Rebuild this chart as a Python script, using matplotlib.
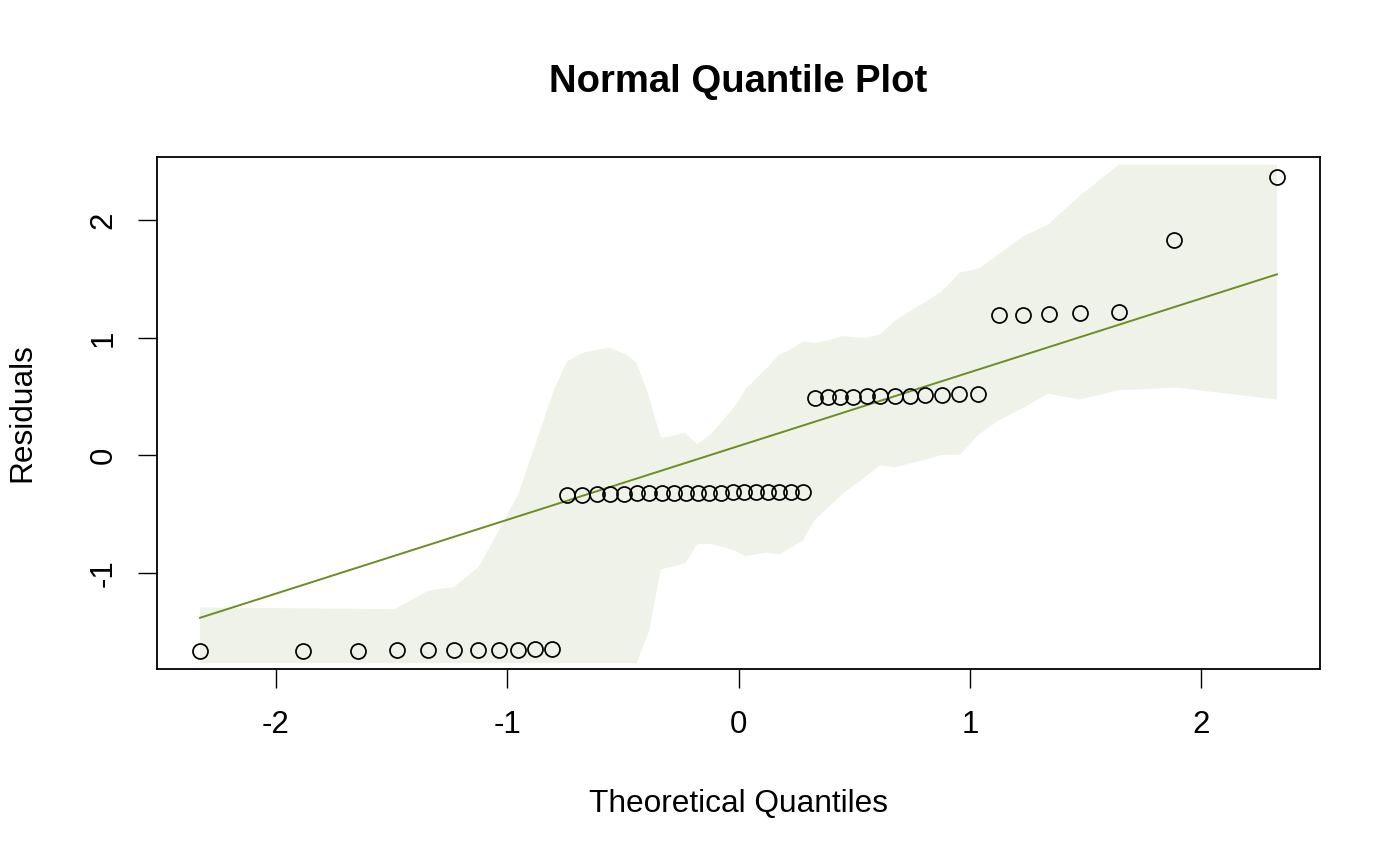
import numpy as np
import matplotlib
matplotlib.use("Agg")
import matplotlib.pyplot as plt

plt.rcParams["font.family"] = ["Liberation Sans", "DejaVu Sans"]

# theoretical normal quantiles (n = 50)
theoretical = [
    -2.326, -1.881, -1.645, -1.476, -1.341, -1.227, -1.126, -1.036, -0.954, -0.878,
    -0.806, -0.739, -0.674, -0.613, -0.553, -0.496, -0.440, -0.385, -0.332, -0.279,
    -0.228, -0.176, -0.126, -0.075, -0.025, 0.025, 0.075, 0.126, 0.176, 0.228,
    0.279, 0.332, 0.385, 0.440, 0.496, 0.553, 0.613, 0.674, 0.739, 0.806,
    0.878, 0.954, 1.036, 1.126, 1.227, 1.341, 1.476, 1.645, 1.881, 2.326,
]

residuals = [
    -1.665, -1.664, -1.663, -1.662, -1.661, -1.660, -1.659, -1.657, -1.655, -1.653,
    -1.650, -0.340, -0.335, -0.330, -0.328, -0.326, -0.325, -0.323, -0.322, -0.321,
    -0.320, -0.319, -0.318, -0.317, -0.316, -0.315, -0.314, -0.313, -0.312, -0.311,
    -0.310, 0.490, 0.494, 0.497, 0.500, 0.502, 0.504, 0.506, 0.508, 0.510,
    0.513, 0.518, 0.525, 1.193, 1.195, 1.207, 1.213, 1.224, 1.835, 2.373,
]

# reference line end points
line_x = [-2.326, 2.326]
line_y = [-1.384, 1.541]

# envelope, upper and lower edges
band_upper_x = [-2.326, -1.486, -1.337, -1.229, -1.122, -1.039, -0.953, -0.882, -0.799, -0.741,
                -0.675, -0.559, -0.484, -0.440, -0.393, -0.336, -0.286, -0.231, -0.178, -0.112,
                -0.013, 0.033, 0.129, 0.175, 0.220, 0.278, 0.336, 0.385, 0.443, 0.551,
                0.612, 0.675, 0.874, 0.956, 1.039, 1.229, 1.337, 1.478, 1.643, 2.326]
band_upper_y = [-1.296, -1.310, -1.151, -1.122, -0.949, -0.656, -0.339, 0.064, 0.548, 0.798,
                0.871, 0.917, 0.856, 0.784, 0.539, 0.150, 0.165, 0.193, 0.093, 0.193,
                0.424, 0.568, 0.755, 0.856, 0.894, 0.969, 0.957, 0.977, 1.014, 1.000,
                1.029, 1.144, 1.389, 1.556, 1.590, 1.864, 1.964, 2.215, 2.475, 2.475]
band_lower_x = [-2.326, -0.440, -0.385, -0.336, -0.231, -0.178, -0.112, -0.013, 0.029, 0.121,
                0.175, 0.278, 0.327, 0.460, 0.551, 0.609, 0.675, 0.807, 0.874, 0.956,
                1.039, 1.122, 1.229, 1.337, 1.473, 1.643, 1.891, 2.326]
band_lower_y = [-1.770, -1.770, -1.491, -0.973, -0.921, -0.756, -0.756, -0.814, -0.858, -0.829,
                -0.843, -0.728, -0.555, -0.310, -0.181, -0.086, -0.101, -0.037, 0.001, 0.006,
                0.179, 0.294, 0.404, 0.525, 0.475, 0.554, 0.577, 0.475]

xticks = [-2, -1, 0, 1, 2]
yticks = [-1, 0, 1, 2]

fig = plt.figure(figsize=(14, 8.66), dpi=100)
ax = fig.add_axes([157 / 1400, 1 - 669 / 866, (1320 - 157) / 1400, (669 - 157) / 866])

# envelope polygon
poly_x = np.concatenate([band_upper_x, band_lower_x[::-1]])
poly_y = np.concatenate([band_upper_y, band_lower_y[::-1]])
ax.fill(poly_x, poly_y, color="#EFF2E9", lw=0, zorder=1)

ax.plot(line_x, line_y, color="#6B8E23", lw=1.4, zorder=2)
ax.plot(theoretical, residuals, "o", ms=10.8, mfc="none", mec="black", mew=1.25, zorder=3)

ax.set_xlim(-2.512, 2.512)
ax.set_ylim(-1.82, 2.54)
ax.set_xticks(xticks)
ax.set_yticks(yticks)
ax.set_xticklabels([str(t) for t in xticks])
ax.set_yticklabels([str(t) for t in yticks], rotation=90, va="center")
ax.tick_params(axis="both", direction="out", length=13.7, width=1.0, labelsize=22.5)
ax.tick_params(axis="x", pad=15.8)
ax.tick_params(axis="y", pad=14)
for s in ax.spines.values():
    s.set_linewidth(1.3)

fig.text(738.5 / 1400, 1 - 92 / 866, "Normal Quantile Plot", ha="center", va="baseline",
         fontsize=27.5, fontweight="bold")
fig.text(738.5 / 1400, 1 - 804 / 866, "Theoretical Quantiles", ha="center", va="center",
         fontsize=22.8)
fig.text(22.3 / 1400, 1 - 413 / 866, "Residuals", ha="center", va="center",
         rotation=90, fontsize=22.8)

fig.savefig("out.png", dpi=100)
